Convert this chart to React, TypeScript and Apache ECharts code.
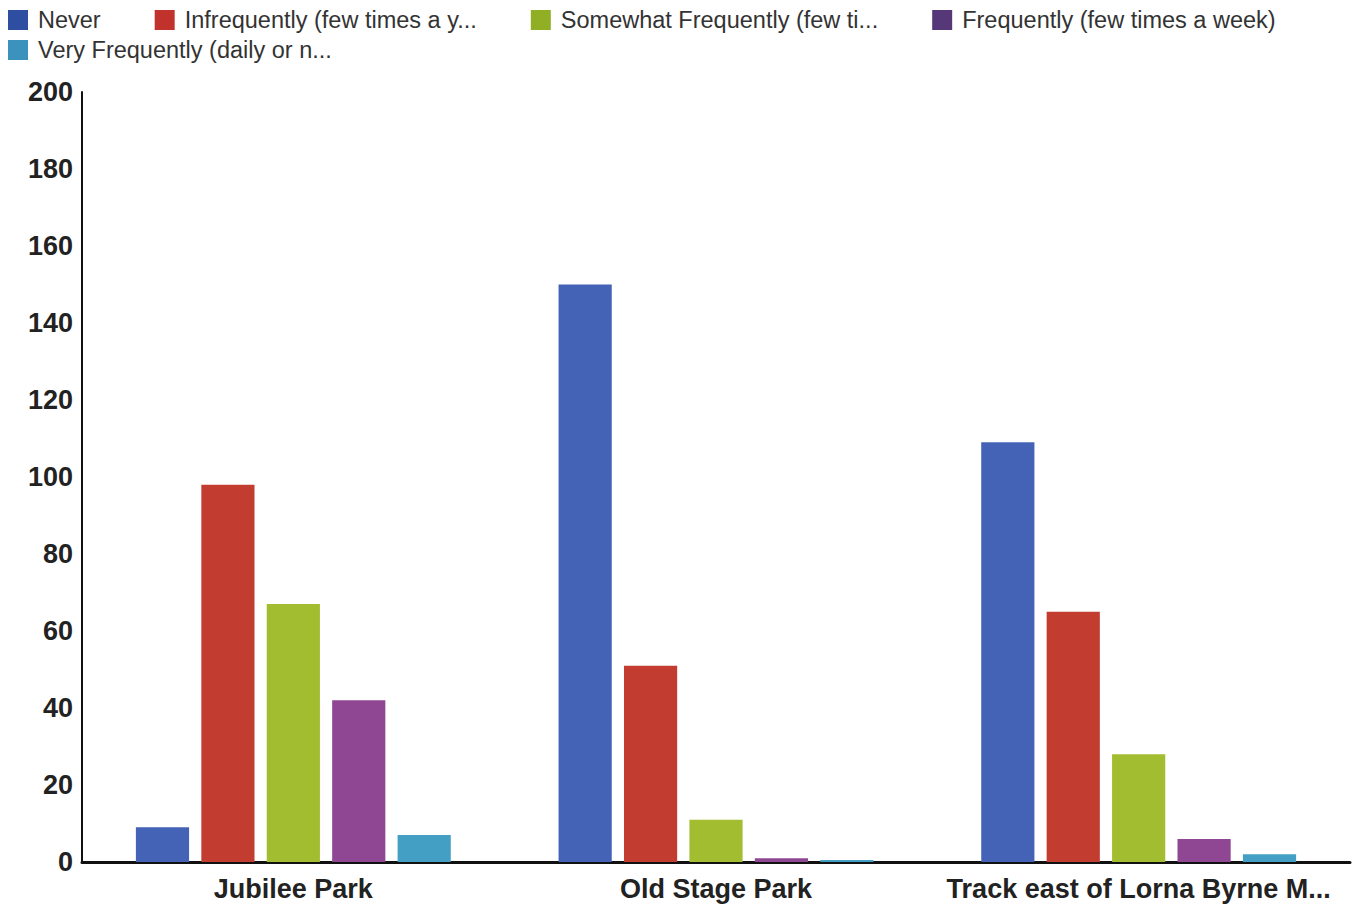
import React, { useEffect, useRef } from "react";
import * as echarts from "echarts";

const categories = ["Jubilee Park", "Old Stage Park", "Track east of Lorna Byrne M..."];
const seriesNames = [
  "Never",
  "Infrequently (few times a y...",
  "Somewhat Frequently (few ti...",
  "Frequently (few times a week)",
  "Very Frequently (daily or n...",
];
const never = [9, 150, 109];
const infrequently = [98, 51, 65];
const somewhat = [67, 11, 28];
const frequently = [42, 1, 6];
const veryFrequently = [7, 0.5, 2];
const seriesValues = [never, infrequently, somewhat, frequently, veryFrequently];
const barColors = ["#4563b6", "#c23d30", "#a2bd2f", "#8f4793", "#439fc4"];
const legendColors = ["#2e4ea2", "#c1322c", "#91af25", "#563778", "#3b92bd"];
const yTicks = { min: 0, max: 200, interval: 20 };

export default function App() {
  const ref = useRef<HTMLDivElement>(null);
  useEffect(() => {
    if (!ref.current) return;
    const chart = echarts.init(ref.current, null, { renderer: "svg" });
    const legendCommon = {
      icon: "rect",
      itemWidth: 20,
      itemHeight: 20,
      itemGap: 54,
      left: 3,
      textStyle: {
        fontFamily: "Liberation Sans, Arial, sans-serif",
        fontSize: 23.5,
        color: "#333",
        padding: [0, 0, 0, 5],
      },
    };
    chart.setOption({
      animation: false,
      backgroundColor: "#ffffff",
      legend: [
        {
          ...legendCommon,
          top: 3,
          data: seriesNames.slice(0, 4).map((n, i) => ({ name: n, itemStyle: { color: legendColors[i] } })),
        },
        {
          ...legendCommon,
          top: 33,
          data: seriesNames.slice(4).map((n, i) => ({ name: n, itemStyle: { color: legendColors[4 + i] } })),
        },
      ],
      grid: { left: 82, right: 5, top: 92, bottom: 45, containLabel: false },
      xAxis: {
        type: "category",
        data: categories,
        axisLine: { lineStyle: { color: "#111", width: 3 } },
        axisTick: { show: false },
        axisLabel: {
          margin: 13,
          fontFamily: "Liberation Sans, Arial, sans-serif",
          fontSize: 27,
          fontWeight: "bold",
          color: "#222",
          interval: 0,
        },
      },
      yAxis: {
        type: "value",
        min: yTicks.min,
        max: yTicks.max,
        interval: yTicks.interval,
        splitLine: { show: false },
        axisLine: { show: true, lineStyle: { color: "#111", width: 2 } },
        axisTick: { show: false },
        axisLabel: {
          margin: 9,
          fontFamily: "Liberation Sans, Arial, sans-serif",
          fontSize: 27,
          fontWeight: "bold",
          color: "#222",
        },
      },
      series: seriesNames.map((name, i) => ({
        name,
        type: "bar",
        data: seriesValues[i],
        itemStyle: { color: barColors[i] },
        barGap: "23%",
        barCategoryGap: "25.5%",
      })),
    });
    return () => chart.dispose();
  }, []);
  return <div ref={ref} style={{ position: "fixed", left: 0, top: 0, width: 1355, height: 907 }} />;
}
